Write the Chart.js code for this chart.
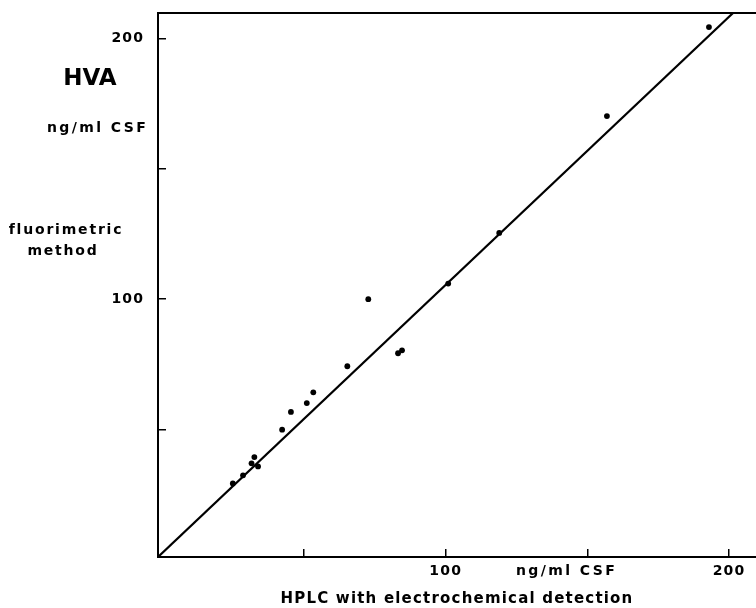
<!DOCTYPE html>
<html>
<head>
<meta charset="utf-8">
<script src="https://cdn.jsdelivr.net/npm/chart.js@4.4.1/dist/chart.umd.min.js"></script>
<style>
  html, body { margin: 0; padding: 0; background: #fff; }
  #wrap { width: 756px; height: 608px; position: relative; }
</style>
</head>
<body>
<div id="wrap"><canvas id="chart"></canvas></div>
<script>
// HPLC (x) vs fluorimetric (y), HVA ng/ml CSF
const hplcValues = [192.9, 156.9, 118.9, 100.9, 72.7, 84.6, 83.2, 65.3, 53.3, 51.0, 45.4, 42.3, 32.5, 31.5, 33.8, 28.5, 24.9];
const fluorValues = [204.3, 170.2, 125.4, 106.0, 100.0, 80.4, 79.3, 74.3, 64.3, 60.2, 56.8, 50.0, 39.5, 37.1, 35.9, 32.5, 29.4];

// regression line end points
const lineX = [-1.5, 201.4];
const lineY = [1.2, 209.7];

const xTickValues = [50, 100, 150, 200];
const xTickLabels = ["", "100", "", "200"];
const yTickValues = [50, 100, 150, 200];
const yTickLabels = ["", "100", "", "200"];

const xRange = [-1.5, 209.5];
const yRange = [1.2, 209.7];

const FONT = "'DejaVu Sans', sans-serif";
const INK = "#000";

const points = hplcValues.map((x, i) => ({ x, y: fluorValues[i] }));
const regLine = lineX.map((x, i) => ({ x, y: lineY[i] }));

const textPlugin = {
  id: 'annotations',
  beforeDraw(chart) {
    chart.ctx.letterSpacing = '1.2px';
  },
  afterDraw(chart) {
    const { ctx, chartArea, scales } = chart;
    const ys = scales.y;
    ctx.save();
    // top frame line
    ctx.strokeStyle = '#000';
    ctx.lineWidth = 2;
    ctx.beginPath();
    ctx.moveTo(chartArea.left - 1, chartArea.top);
    ctx.lineTo(chartArea.right, chartArea.top);
    ctx.stroke();

    ctx.fillStyle = INK;
    ctx.textBaseline = 'middle';

    ctx.letterSpacing = '0px';
    ctx.font = "bold 23px " + FONT;
    ctx.textAlign = 'center';
    ctx.fillText("HVA", 90, ys.getPixelForValue(184.5));

    ctx.letterSpacing = '2.4px';
    ctx.font = "bold 14px " + FONT;
    ctx.textAlign = 'left';
    ctx.fillText("ng/ml CSF", 47, ys.getPixelForValue(165.6));

    ctx.letterSpacing = '1.8px';
    ctx.textAlign = 'center';
    ctx.fillText("fluorimetric", 66, ys.getPixelForValue(126.5));
    ctx.fillText("method", 63, ys.getPixelForValue(118.4));

    // unit label on the x axis
    ctx.letterSpacing = '2.4px';
    ctx.textAlign = 'left';
    ctx.fillText("ng/ml CSF", 516, chartArea.bottom + 14.5);
    ctx.restore();
  }
};

new Chart(document.getElementById('chart'), {
  type: 'scatter',
  data: {
    datasets: [
      {
        data: points,
        backgroundColor: '#000',
        borderColor: '#000',
        pointRadius: 2.9,
        pointHoverRadius: 2.9,
        borderWidth: 0
      },
      {
        data: regLine,
        showLine: true,
        borderColor: '#000',
        borderWidth: 2.2,
        pointRadius: 0,
        fill: false
      }
    ]
  },
  options: {
    responsive: true,
    maintainAspectRatio: false,
    animation: false,
    events: [],
    layout: { autoPadding: false, padding: { top: 13, right: 0, bottom: 0, left: 0 } },
    plugins: {
      legend: { display: false },
      tooltip: { enabled: false }
    },
    scales: {
      x: {
        type: 'linear',
        min: xRange[0],
        max: xRange[1],
        afterBuildTicks: s => { s.ticks = xTickValues.map(v => ({ value: v })); },
        afterFit: s => { s.height = 51; s.paddingLeft = 0; s.paddingRight = 0; },
        ticks: {
          padding: 13.6,
          color: INK,
          font: { family: FONT, size: 14, weight: 'bold' },
          callback: v => xTickLabels[xTickValues.indexOf(v)] || ""
        },
        grid: { drawOnChartArea: false, drawTicks: true, tickLength: -8, color: '#000', lineWidth: 1.5 },
        border: { display: true, color: '#000', width: 2 },
        title: {
          display: true,
          text: "HPLC with electrochemical detection",
          color: INK,
          font: { family: FONT, size: 15, weight: 'bold' },
          padding: { top: 0, bottom: 0 }
        }
      },
      y: {
        type: 'linear',
        min: yRange[0],
        max: yRange[1],
        afterBuildTicks: s => { s.ticks = yTickValues.map(v => ({ value: v })); },
        afterFit: s => { s.width = 158; s.paddingTop = 0; s.paddingBottom = 0; },
        ticks: {
          padding: 21.8,
          color: INK,
          font: { family: FONT, size: 14, weight: 'bold' },
          callback: v => yTickLabels[yTickValues.indexOf(v)] || ""
        },
        grid: { drawOnChartArea: false, drawTicks: true, tickLength: -8, color: '#000', lineWidth: 1.5 },
        border: { display: true, color: '#000', width: 2 }
      }
    }
  },
  plugins: [textPlugin]
});
</script>
</body>
</html>
